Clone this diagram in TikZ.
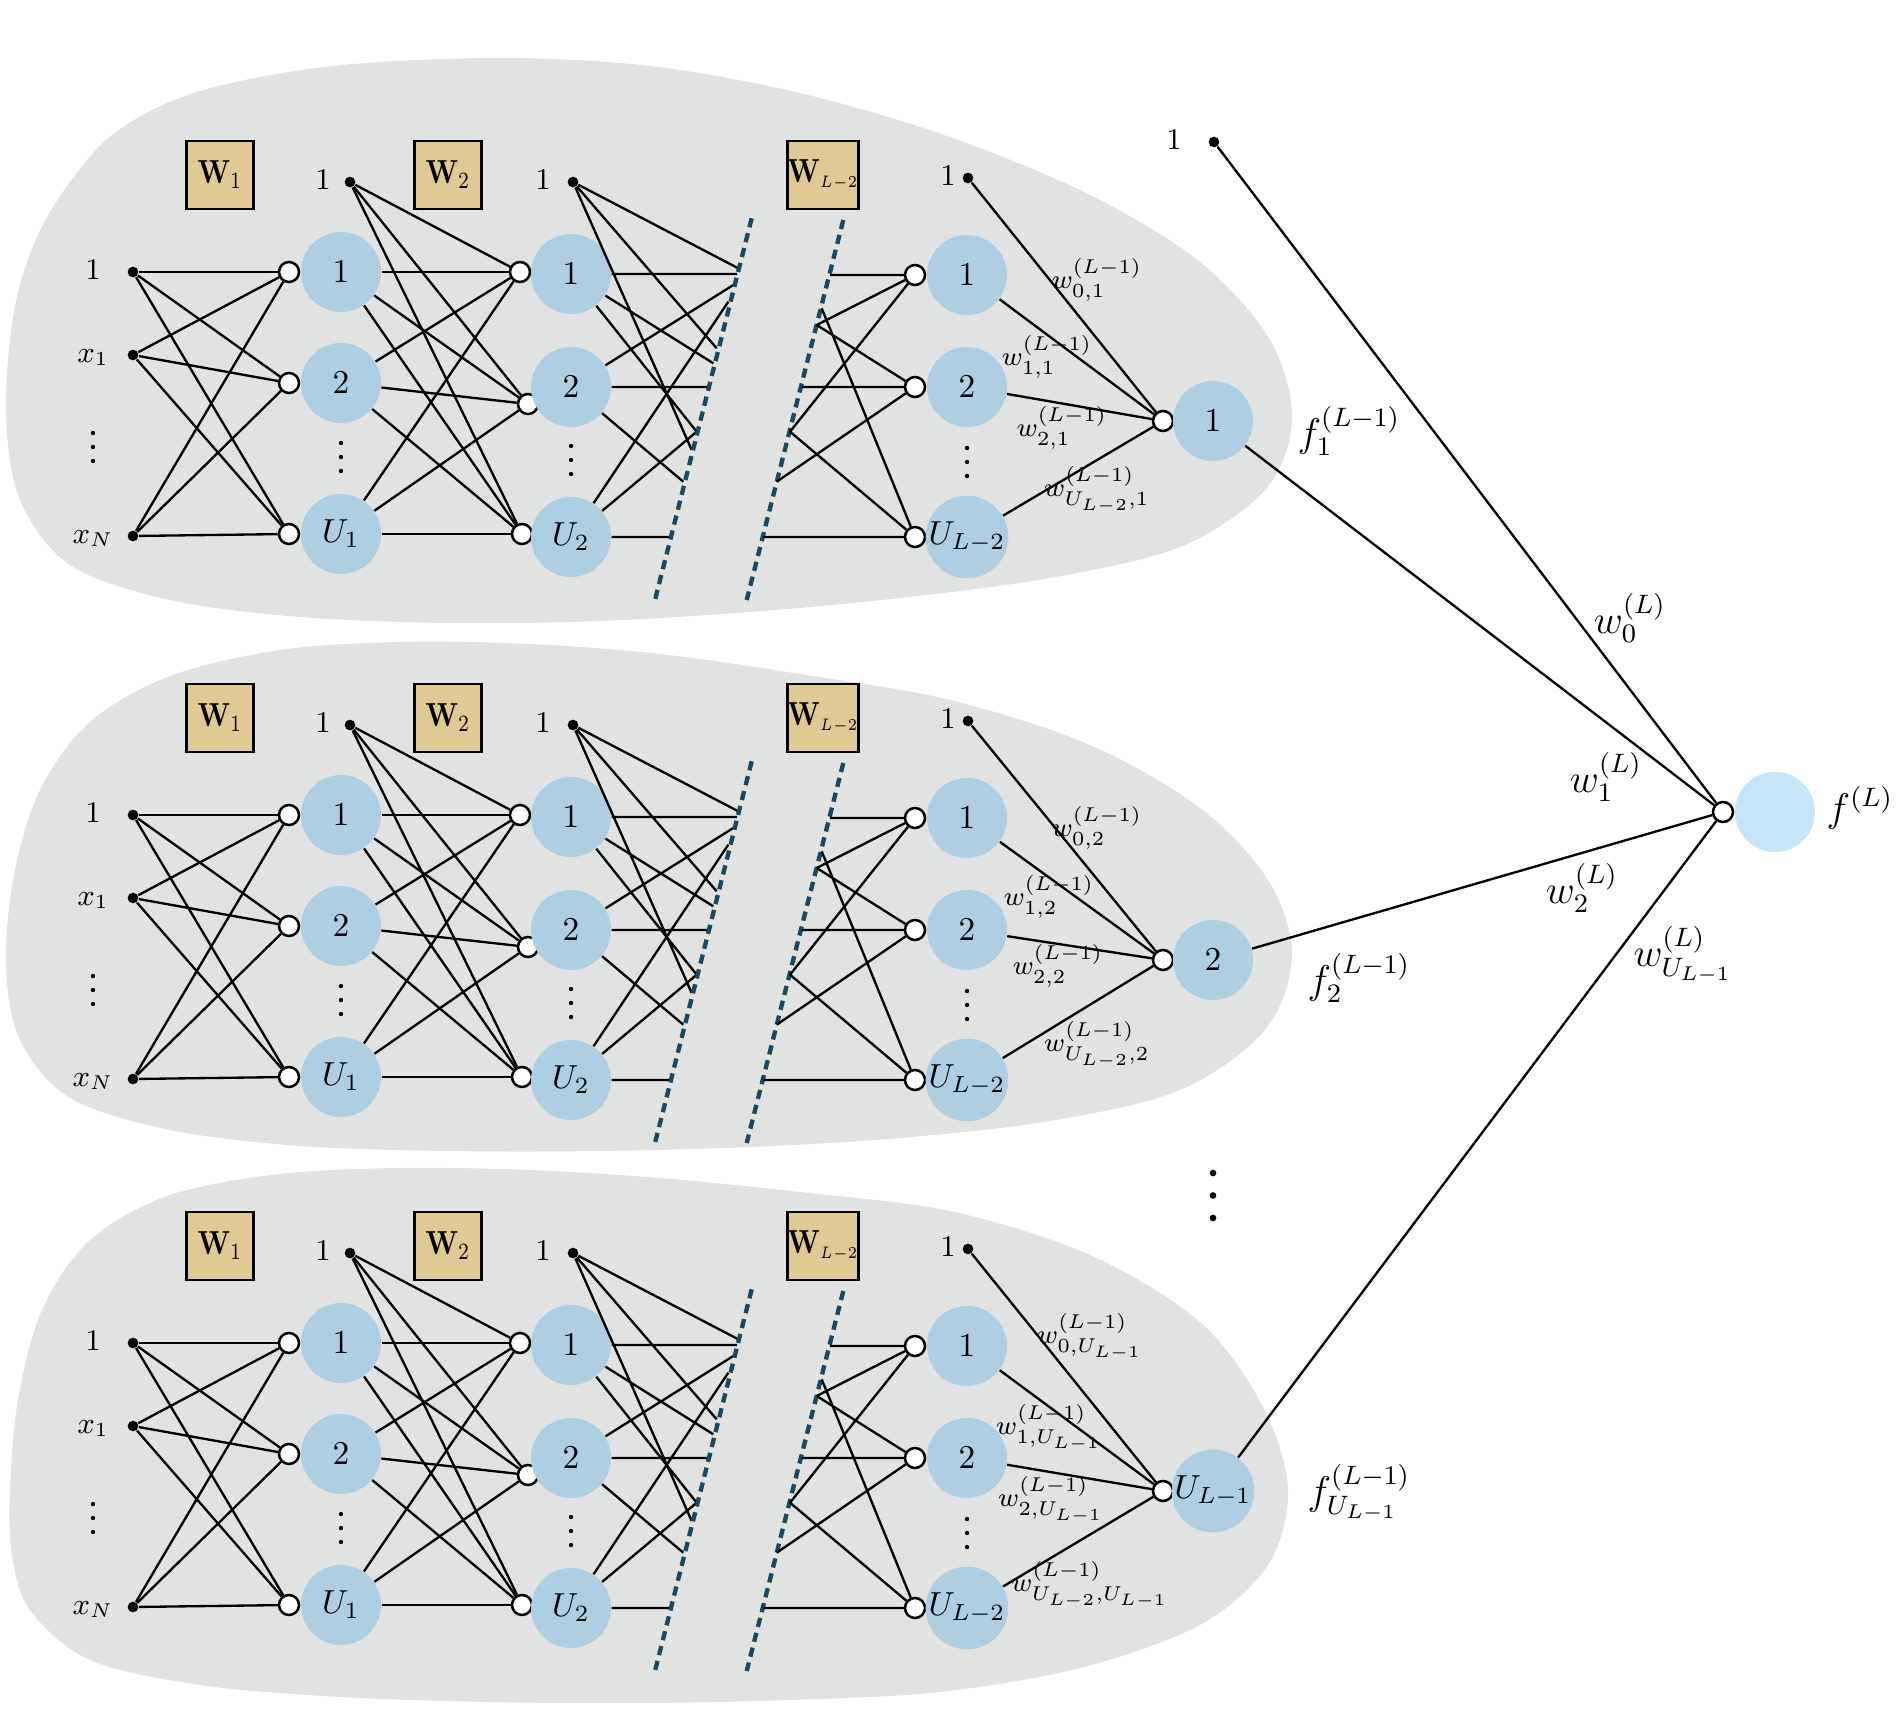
\documentclass[tikz,border=0pt]{standalone}
\usepackage{graphicx}
\definecolor{blobgray}{RGB}{225,227,227}
\definecolor{nodeblue}{RGB}{174,206,226}
\definecolor{outblue}{RGB}{197,230,250}
\definecolor{wfill}{RGB}{224,202,148}
\definecolor{cutcol}{RGB}{27,72,96}
\tikzset{
  lab/.style={font=\fontsize{9}{10}\selectfont, inner sep=0pt, anchor=mid},
  num/.style={circle, fill=nodeblue, minimum size=24pt, inner sep=0pt, font=\fontsize{10}{12}\selectfont},
  sc/.style={circle, draw, fill=white, line width=0.75pt, minimum size=6pt, inner sep=0pt},
  bdot/.style={circle, fill=black, minimum size=3.2pt, inner sep=0pt},
  wbox/.style={draw, fill=wfill, line width=0.8pt, minimum width=20pt, minimum height=20.4pt, inner sep=0pt, font=\fontsize{10}{12}\selectfont},
  conn/.style={line width=0.7pt},
  cutline/.style={dash pattern=on 2.8pt off 1.8pt, line width=1.3pt, draw=cutcol},
  wl/.style={font=\fontsize{8}{9}\selectfont, inner sep=0pt},
  big/.style={font=\fontsize{12}{14}\selectfont, inner sep=0pt},
  blob/.style={fill=blobgray},
}
\newcommand{\wlab}[1]{\scalebox{0.82}[1]{#1}}
\newcommand{\vdotsat}[2]{%
  \fill (#1,#2-14) circle (0.65pt);
  \fill (#1,#2) circle (0.65pt);
  \fill (#1,#2+14) circle (0.65pt);}
\newcommand{\netblock}[4]{%
\begin{scope}[shift={(0,#2)}]
  \node[wbox] (#1W1) at (220,175) {\wlab{$\mathbf{W}_1$}};
  \node[wbox] (#1W2) at (448,175) {\wlab{$\mathbf{W}_2$}};
  \node[wbox] (#1W3) at (823,175) {\wlab{$\mathbf{W}_{\scriptscriptstyle L-2}$}};
  % inputs
  \node[lab] (#1t1) at (93,272) {$1$};
  \node[lab] (#1t2) at (93,355) {$x_1$};
  \node[lab] (#1t4) at (93,536) {$x_N$};
  \vdotsat{93}{447}
  \node[bdot] (#1i1) at (133,272) {};
  \node[bdot] (#1i2) at (133,355) {};
  \node[bdot] (#1i3) at (133,536) {};
  % layer 1
  \node[sc] (#1a1) at (289,272) {};
  \node[sc] (#1a2) at (289,383) {};
  \node[sc] (#1a3) at (289,534) {};
  \node[num] (#1A1) at (341,272) {$1$};
  \node[num] (#1A2) at (341,383) {$2$};
  \node[num] (#1A3) at (341,534) {$U_1$};
  \vdotsat{341}{457}
  \foreach \s in {i1,i2,i3} \foreach \t in {a1,a2,a3} \draw[conn] (#1\s) -- (#1\t);
  % layer 2
  \node[lab] (#1tb1) at (323,182) {$1$};
  \node[bdot] (#1b1) at (350,182) {};
  \node[sc] (#1c1) at (520,272) {};
  \node[sc] (#1c2) at (528,404) {};
  \node[sc] (#1c3) at (522,534) {};
  \node[num] (#1C1) at (571,274) {$1$};
  \node[num] (#1C2) at (571,387) {$2$};
  \node[num] (#1C3) at (571,537) {$U_2$};
  \vdotsat{571}{460}
  \foreach \s in {b1,A1,A2,A3} \foreach \t in {c1,c2,c3} \draw[conn] (#1\s) -- (#1\t);
  % cut lines towards the dashed line
  \node[lab] (#1tb2) at (543,182) {$1$};
  \node[bdot] (#1b2) at (573,182) {};
  \coordinate (#1ka) at (738.3,268.3);
  \coordinate (#1kb) at (737,274);
  \coordinate (#1kc) at (733.3,285);
  \coordinate (#1kd) at (728.3,301.7);
  \coordinate (#1ke) at (716.7,348.3);
  \coordinate (#1kf) at (713.3,363.3);
  \coordinate (#1kg) at (708,387);
  \coordinate (#1kh) at (696.7,431.7);
  \coordinate (#1ki) at (691.7,450);
  \coordinate (#1kj) at (683.3,481.7);
  \coordinate (#1kk) at (670,537);
  \draw[conn] (#1b2) -- (#1ka) (#1b2) -- (#1ke) (#1b2) -- (#1ki)
              (#1C1) -- (#1kb) (#1C1) -- (#1kf) (#1C1) -- (#1kh)
              (#1C2) -- (#1kc) (#1C2) -- (#1kg) (#1C2) -- (#1kj)
              (#1C3) -- (#1kd) (#1C3) -- (#1kh) (#1C3) -- (#1kk);
  % dashed separators
  \coordinate (#1s1) at (751.7,218.3);
  \coordinate (#1e1) at (655,600);
  \coordinate (#1s2) at (843.3,220);
  \coordinate (#1e2) at (746.7,600);
  \draw[cutline] (#1s1) -- (#1e1);
  \draw[cutline] (#1s2) -- (#1e2);
  % layer L-2
  \node[sc] (#1g1) at (915,275) {};
  \node[sc] (#1g2) at (915,387) {};
  \node[sc] (#1g3) at (915,537) {};
  \node[num] (#1G1) at (967,275) {$1$};
  \node[num] (#1G2) at (967,387) {$2$};
  \node[num] (#1G3) at (967,537) {$U_{L-2}$};
  \vdotsat{967}{462}
  \coordinate (#1p1) at (830,275);
  \coordinate (#1p2) at (816.7,325);
  \coordinate (#1p3) at (790,431.7);
  \coordinate (#1p4) at (801.7,387);
  \coordinate (#1p5) at (776.7,481.7);
  \coordinate (#1p6) at (821.7,308.3);
  \coordinate (#1p7) at (763.3,537);
  \draw[conn] (#1p1) -- (#1g1) (#1p2) -- (#1g1) (#1p3) -- (#1g1)
              (#1p2) -- (#1g2) (#1p4) -- (#1g2) (#1p5) -- (#1g2)
              (#1p6) -- (#1g3) (#1p3) -- (#1g3) (#1p7) -- (#1g3);
  % layer L-1 unit
  \node[lab] (#1tb3) at (948,178) {$1$};
  \node[bdot] (#1b3) at (968,178) {};
  \node[sc] (#1f) at (1163,#4) {};
  \node[num] (#1F) at (1213,#4) {#3};
  \draw[conn] (#1b3) -- (#1f) (#1G1) -- (#1f) (#1G2) -- (#1f) (#1G3) -- (#1f);
\end{scope}}
\begin{document}
\begin{tikzpicture}[x=0.3pt,y=-0.3pt]
\useasboundingbox (0,0) rectangle (1900,1726);
% blobs
\fill[blob] plot[smooth cycle, tension=0.55] coordinates {
 (6,415) (13,317) (33,246) (67,186) (117,131) (200,91) (333,66) (500,58) (650,66)
 (800,93) (950,137) (1090,195) (1200,262) (1270,340) (1292,420) (1265,490) (1180,547)
 (1050,578) (900,598) (750,612) (600,621) (450,623) (300,617) (170,600) (70,565) (20,500)};
\fill[blob] plot[smooth cycle, tension=0.55] coordinates {
 (6,965) (14,875) (40,790) (90,722) (170,676) (280,650) (400,642) (530,644) (660,654)
 (800,674) (950,700) (1090,745) (1200,808) (1268,880) (1292,955) (1265,1030) (1180,1090)
 (1050,1121) (900,1138) (750,1147) (600,1151) (450,1151) (300,1146) (170,1130) (70,1098)
 (20,1040)};
\fill[blob] plot[smooth cycle, tension=0.55] coordinates {
 (10,1490) (18,1400) (42,1310) (90,1240) (170,1195) (280,1174) (400,1168) (530,1170)
 (660,1178) (800,1192) (950,1211) (1090,1255) (1200,1322) (1262,1405) (1288,1489)
 (1268,1565) (1200,1625) (1080,1668) (940,1692) (790,1700) (640,1703) (490,1702)
 (340,1697) (200,1685) (90,1660) (30,1610) (12,1555)};
% three sub-networks
\netblock{p}{0}{$1$}{421}
\netblock{q}{543}{$2$}{417}
\netblock{r}{1071}{$U_{L-1}$}{420}
% weight labels of layer L-1
\node[wl] (lp0) at (1097,280) {$w^{(L-1)}_{0,1}$};
\node[wl] (lp1) at (1047,357) {$w^{(L-1)}_{1,1}$};
\node[wl] (lp2) at (1062,428) {$w^{(L-1)}_{2,1}$};
\node[wl] (lp3) at (1097,490) {$w^{(L-1)}_{U_{L-2},1}$};
\node[wl] (lq0) at (1097,828) {$w^{(L-1)}_{0,2}$};
\node[wl] (lq1) at (1049,897) {$w^{(L-1)}_{1,2}$};
\node[wl] (lq2) at (1058,966) {$w^{(L-1)}_{2,2}$};
\node[wl] (lq3) at (1097,1045) {$w^{(L-1)}_{U_{L-2},2}$};
\node[wl] (lr0) at (1090,1337) {$w^{(L-1)}_{0,U_{L-1}}$};
\node[wl] (lr1) at (1049,1428) {$w^{(L-1)}_{1,U_{L-1}}$};
\node[wl] (lr2) at (1051,1500) {$w^{(L-1)}_{2,U_{L-1}}$};
\node[wl] (lr3) at (1090,1585) {$w^{(L-1)}_{U_{L-2},U_{L-1}}$};
% f labels
\node[big, anchor=west] (fp) at (1297,431) {$f^{(L-1)}_1$};
\node[big, anchor=west] (fq) at (1307,978) {$f^{(L-1)}_2$};
\node[big, anchor=west] (fr) at (1307,1493) {$f^{(L-1)}_{U_{L-1}}$};
% vertical ellipsis between blocks
\fill (1213,1173) circle (1pt);
\fill (1213,1195.5) circle (1pt);
\fill (1213,1218) circle (1pt);
% output layer
\node[lab] (tbo) at (1174,142) {$1$};
\node[bdot] (bo) at (1214,142) {};
\node[sc] (o) at (1723,812) {};
\node[circle, fill=outblue, minimum size=24pt, inner sep=0pt] (O) at (1775,812) {};
\node[big, anchor=west] (fL) at (1826,808) {$f^{(L)}$};
\draw[conn] (bo) -- (o) (pF) -- (o) (qF) -- (o) (rF) -- (o);
\node[big] (w0) at (1630,618) {$w^{(L)}_0$};
\node[big] (w1) at (1606,777) {$w^{(L)}_1$};
\node[big] (w2) at (1582,888) {$w^{(L)}_2$};
\node[big] (wU) at (1683,955) {$w^{(L)}_{U_{L-1}}$};
\end{tikzpicture}
\end{document}
